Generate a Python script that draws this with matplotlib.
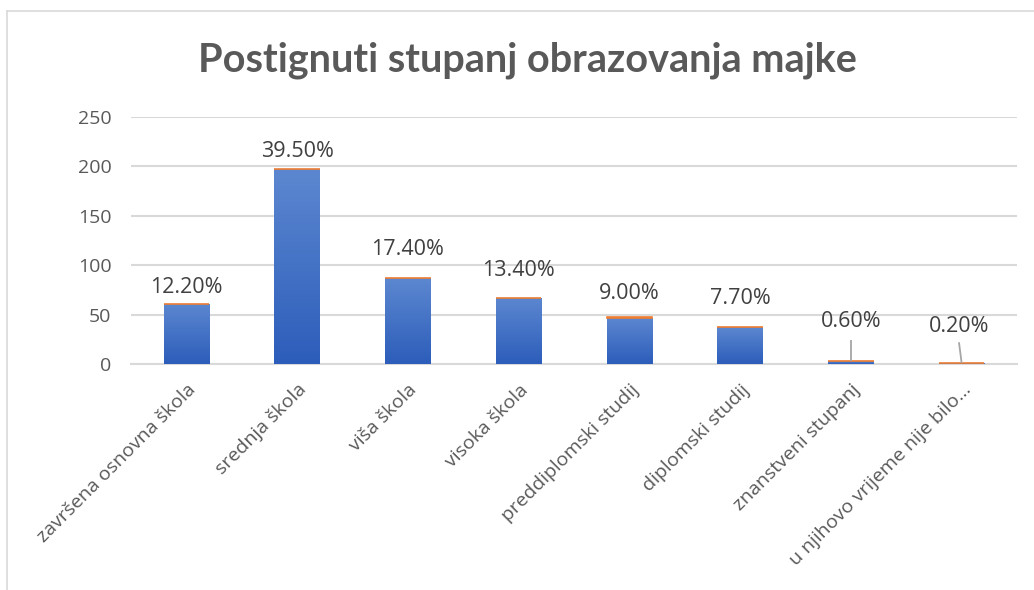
import numpy as np
import matplotlib
matplotlib.use('Agg')
import matplotlib.pyplot as plt
from matplotlib.lines import Line2D
from matplotlib.colors import LinearSegmentedColormap

# podaci s grafa
categories = ['završena osnovna škola', 'srednja škola', 'viša škola', 'visoka škola',
              'preddiplomski studij', 'diplomski studij', 'znanstveni stupanj',
              'u njihovo vrijeme nije bilo…']
counts = [61, 197, 87, 67, 47, 37, 3, 1]
shares = [0.122, 0.395, 0.174, 0.134, 0.090, 0.077, 0.006, 0.002]
yticks = [0, 50, 100, 150, 200, 250]

grey_txt = '#595959'
grid_col = '#D9D9D9'
plt.rcParams['font.family'] = ['Open Sans', 'DejaVu Sans']

fig = plt.figure(figsize=(10.34, 5.90), dpi=100)
ax = fig.add_axes([131/1034, 1-364/590, (1017-131)/1034, (364-117)/590])

x = np.arange(len(categories))
w = 0.41
bars = ax.bar(x, counts, width=w, color='#4472C4', zorder=3)

# gradijent na stupcima
cmap = LinearSegmentedColormap.from_list('g', ['#2C5DBA', '#5C87D0'])
grad = np.linspace(0, 1, 256).reshape(-1, 1)
for b in bars:
    if b.get_height() <= 0:
        continue
    im = ax.imshow(grad, cmap=cmap, aspect='auto', origin='lower', zorder=3,
                   extent=[b.get_x(), b.get_x()+b.get_width(), 0, b.get_height()])
    im.set_clip_path(b)

# drugi niz (postotak) naslagan na vrh
ax.bar(x, shares, width=w, bottom=counts, color='#ED7D31', edgecolor='#ED7D31',
       linewidth=1.2, zorder=4)

ax.set_xlim(-0.5, len(categories)-0.5)
ax.set_ylim(0, 250)
ax.set_yticks(yticks)
ax.yaxis.grid(True, color=grid_col, linewidth=1.5, zorder=0)
for s in ['top', 'right', 'left']:
    ax.spines[s].set_visible(False)
ax.spines['bottom'].set_color(grid_col)
ax.spines['bottom'].set_linewidth(1.5)
ax.tick_params(axis='both', length=0, colors=grey_txt)
ax.tick_params(axis='y', labelsize=14, pad=14)
ax.set_xticks(x)
ax.set_xticklabels(categories, rotation=45, ha='right', rotation_mode='anchor',
                   fontsize=14, color=grey_txt)
ax.tick_params(axis='x', pad=12)

# oznake postotaka (Excel ih malo različito odmiče od vrha)
lift = [4, 5, 13, 12, 10, 13, 21, 19]
for i, (c, s) in enumerate(zip(counts, shares)):
    lbl = f'{s*100:.2f}%'
    dx = -2 if i == 7 else 0
    ax.annotate(lbl, xy=(x[i], c+s), xytext=(dx, lift[i]), textcoords='offset points',
                ha='center', va='bottom', fontsize=15.5, color='#404040')
    if c < 10:
        # linija vodilica do malih stupaca
        ax.plot([x[i], x[i] + dx*0.012], [c+s, c+s+21], color='#A6A6A6', lw=1.3,
                zorder=5, solid_capstyle='butt')

fig.text(0.51, 1-60/590, 'Postignuti stupanj obrazovanja majke', ha='center', va='center',
         fontsize=28.5, fontweight='bold', color=grey_txt, family=['Lato', 'DejaVu Sans'])

# okvir grafikona
fig.add_artist(Line2D([7/1034, 1.0], [1-11/590, 1-11/590], color=grid_col, lw=1.2,
                      transform=fig.transFigure))
fig.add_artist(Line2D([7/1034, 7/1034], [0, 1-11/590], color=grid_col, lw=1.2,
                      transform=fig.transFigure))

fig.savefig('out.png', dpi=100, facecolor='white')
